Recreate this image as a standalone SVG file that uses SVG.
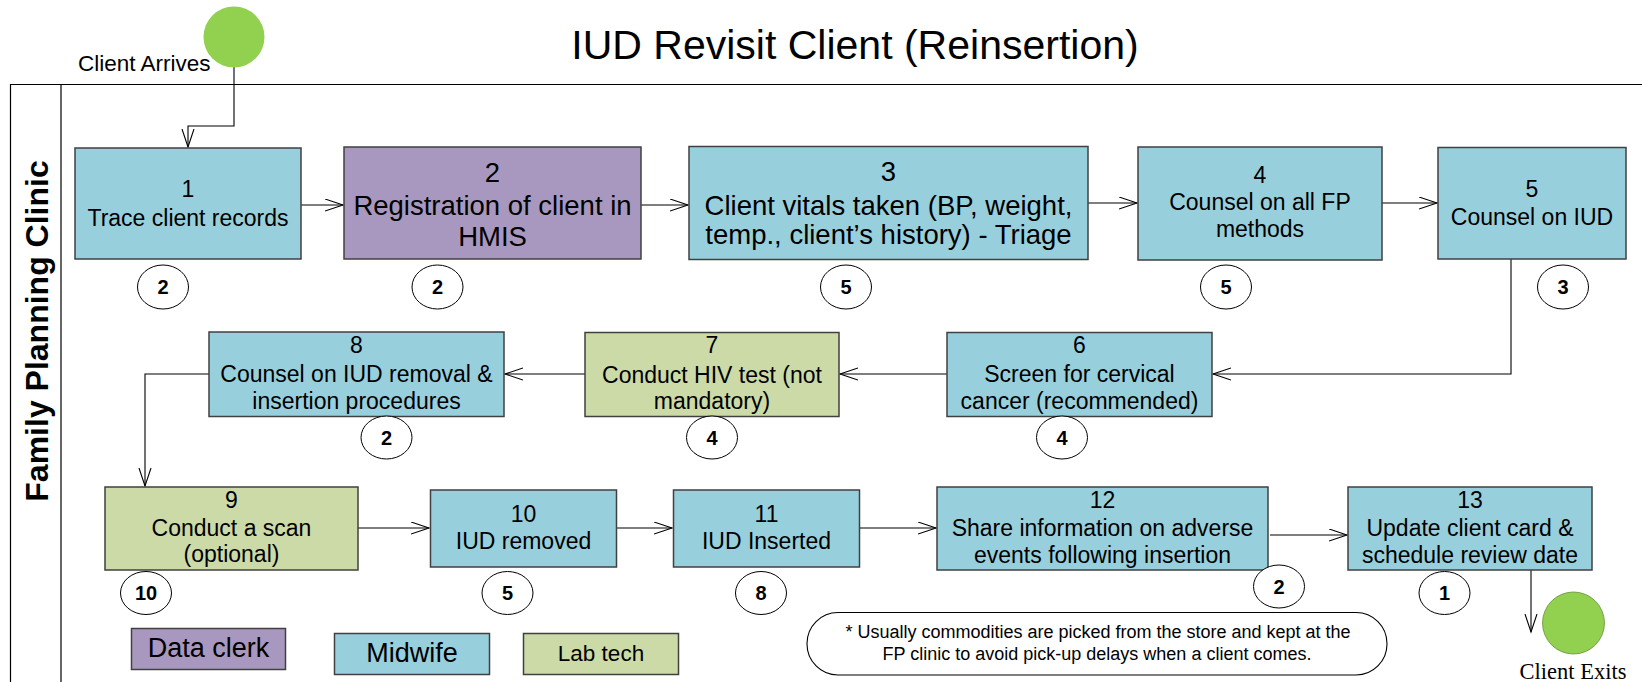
<svg xmlns="http://www.w3.org/2000/svg" width="1642" height="682" viewBox="0 0 1642 682">
<style>
text{font-family:"Liberation Sans",Arial,sans-serif;fill:#000}
.box{stroke:#404040;stroke-width:1.5}
.mid{fill:#98CFDC}
.dat{fill:#A898BF}
.lab{fill:#CCDAA8}
.t{font-size:23px;text-anchor:middle}
.tb{font-size:27.5px;text-anchor:middle}
.badge{fill:#fff;stroke:#000;stroke-width:1}
.bt{font-size:20px;font-weight:bold;text-anchor:middle}
.con{fill:none;stroke:#000;stroke-width:1.1}
.start{fill:#92D050}
</style>
<defs>
<marker id="ah" markerUnits="userSpaceOnUse" markerWidth="20" markerHeight="14" refX="18" refY="6.5" orient="auto">
<path d="M0,0.5 L18,6.5 L0,12.5" fill="none" stroke="#000" stroke-width="1.1"/>
</marker>
</defs>
<rect width="1642" height="682" fill="#fff"/>

<g id="title">
<text x="855" y="58.5" style="font-size:41px;text-anchor:middle">IUD Revisit Client (Reinsertion)</text>
</g>

<g id="lane">
<path d="M10.5,682 V84.5 H1642 M61,84.5 V682" fill="none" stroke="#000" stroke-width="1.2"/>
<text transform="translate(48,331) rotate(-90)" style="font-size:32px;font-weight:bold;text-anchor:middle">Family Planning Clinic</text>
</g>

<g id="connectors">
<path class="con" d="M234,67 V126 H188 V147" marker-end="url(#ah)"/>
<path class="con" d="M301,205 H343" marker-end="url(#ah)"/>
<path class="con" d="M641,205 H688" marker-end="url(#ah)"/>
<path class="con" d="M1088,203 H1137" marker-end="url(#ah)"/>
<path class="con" d="M1382,203 H1437" marker-end="url(#ah)"/>
<path class="con" d="M1511,259 V374 H1213" marker-end="url(#ah)"/>
<path class="con" d="M947,374 H840" marker-end="url(#ah)"/>
<path class="con" d="M585,374 H505" marker-end="url(#ah)"/>
<path class="con" d="M209,374 H145 V486" marker-end="url(#ah)"/>
<path class="con" d="M358,528 H429" marker-end="url(#ah)"/>
<path class="con" d="M617,528 H672" marker-end="url(#ah)"/>
<path class="con" d="M860,528 H936" marker-end="url(#ah)"/>
<path class="con" d="M1270,535 H1347" marker-end="url(#ah)"/>
<path class="con" d="M1531,570 V632" marker-end="url(#ah)"/>
</g>

<g id="start">
<circle class="start" cx="234" cy="37" r="30.5"/>
<text x="78" y="70.5" style="font-size:22.5px">Client Arrives</text>
</g>

<g id="n1">
<rect class="box mid" x="75" y="148" width="226" height="111"/>
<text class="t" x="188" y="197">1</text>
<text class="t" x="188" y="226">Trace client records</text>
<ellipse class="badge" cx="163" cy="287" rx="25.5" ry="22"/>
<text class="bt" x="163" y="294">2</text>
</g>

<g id="n2">
<rect class="box dat" x="344" y="147" width="297" height="112"/>
<text class="tb" x="492.5" y="182">2</text>
<text class="tb" x="492.5" y="214.5">Registration of client in</text>
<text class="tb" x="492.5" y="246">HMIS</text>
<ellipse class="badge" cx="437.5" cy="287" rx="25.5" ry="22"/>
<text class="bt" x="437.5" y="294">2</text>
</g>

<g id="n3">
<rect class="box mid" x="689" y="146.5" width="399" height="113"/>
<text class="tb" x="888.5" y="181">3</text>
<text class="tb" x="888.5" y="215">Client vitals taken (BP, weight,</text>
<text class="tb" x="888.5" y="244">temp., client’s history) - Triage</text>
<ellipse class="badge" cx="846" cy="287" rx="25.5" ry="22"/>
<text class="bt" x="846" y="294">5</text>
</g>

<g id="n4">
<rect class="box mid" x="1138" y="147" width="244" height="113"/>
<text class="t" x="1260" y="183">4</text>
<text class="t" x="1260" y="210">Counsel on all FP</text>
<text class="t" x="1260" y="237">methods</text>
<ellipse class="badge" cx="1226" cy="287" rx="25.5" ry="22"/>
<text class="bt" x="1226" y="294">5</text>
</g>

<g id="n5">
<rect class="box mid" x="1438" y="147.5" width="188" height="111.5"/>
<text class="t" x="1532" y="197">5</text>
<text class="t" x="1532" y="224.5">Counsel on IUD</text>
<ellipse class="badge" cx="1563" cy="287" rx="25.5" ry="22"/>
<text class="bt" x="1563" y="294">3</text>
</g>

<g id="n6">
<rect class="box mid" x="947" y="332.5" width="265" height="84"/>
<text class="t" x="1079.5" y="353">6</text>
<text class="t" x="1079.5" y="382">Screen for cervical</text>
<text class="t" x="1079.5" y="408.5">cancer (recommended)</text>
<ellipse class="badge" cx="1062" cy="437.5" rx="25.5" ry="21.5"/>
<text class="bt" x="1062" y="444.5">4</text>
</g>

<g id="n7">
<rect class="box lab" x="585" y="332.5" width="254" height="84"/>
<text class="t" x="712" y="353">7</text>
<text class="t" x="712" y="382.5">Conduct HIV test (not</text>
<text class="t" x="712" y="409">mandatory)</text>
<ellipse class="badge" cx="712" cy="437.5" rx="25.5" ry="21.5"/>
<text class="bt" x="712" y="444.5">4</text>
</g>

<g id="n8">
<rect class="box mid" x="209" y="332" width="295" height="84.5"/>
<text class="t" x="356.5" y="353">8</text>
<text class="t" x="356.5" y="382">Counsel on IUD removal &amp;</text>
<text class="t" x="356.5" y="408.5">insertion procedures</text>
<ellipse class="badge" cx="386.5" cy="437.5" rx="25.5" ry="21.5"/>
<text class="bt" x="386.5" y="444.5">2</text>
</g>

<g id="n9">
<rect class="box lab" x="105" y="487" width="253" height="83"/>
<text class="t" x="231.5" y="508">9</text>
<text class="t" x="231.5" y="536">Conduct a scan</text>
<text class="t" x="231.5" y="562">(optional)</text>
<ellipse class="badge" cx="146" cy="593" rx="25.5" ry="21.5"/>
<text class="bt" x="146" y="600">10</text>
</g>

<g id="n10">
<rect class="box mid" x="430.5" y="490" width="186" height="77"/>
<text class="t" x="523.5" y="521.5">10</text>
<text class="t" x="523.5" y="548.5">IUD removed</text>
<ellipse class="badge" cx="507.5" cy="593" rx="25.5" ry="21.5"/>
<text class="bt" x="507.5" y="600">5</text>
</g>

<g id="n11">
<rect class="box mid" x="673.5" y="490" width="186" height="77"/>
<text class="t" x="766.5" y="521.5">11</text>
<text class="t" x="766.5" y="548.5">IUD Inserted</text>
<ellipse class="badge" cx="761" cy="593" rx="25.5" ry="21.5"/>
<text class="bt" x="761" y="600">8</text>
</g>

<g id="n12">
<rect class="box mid" x="937" y="487" width="331" height="83"/>
<text class="t" x="1102.5" y="508">12</text>
<text class="t" x="1102.5" y="536">Share information on adverse</text>
<text class="t" x="1102.5" y="563">events following insertion</text>
<ellipse class="badge" cx="1279" cy="586.5" rx="25.5" ry="21.5"/>
<text class="bt" x="1279" y="593.5">2</text>
</g>

<g id="n13">
<rect class="box mid" x="1348" y="487" width="244" height="83"/>
<text class="t" x="1470" y="508">13</text>
<text class="t" x="1470" y="536">Update client card &amp;</text>
<text class="t" x="1470" y="563">schedule review date</text>
<ellipse class="badge" cx="1444.5" cy="593" rx="25.5" ry="21.5"/>
<text class="bt" x="1444.5" y="600">1</text>
</g>

<g id="end">
<circle class="start" cx="1573.5" cy="623" r="31" stroke="#6a8f3a" stroke-width="0.8"/>
<text x="1573" y="679" style="font-family:'Liberation Serif','Times New Roman',serif;font-size:22.5px;text-anchor:middle">Client Exits</text>
</g>

<g id="note">
<rect x="807" y="612.5" width="580" height="62.5" rx="31" ry="31" fill="#fff" stroke="#000" stroke-width="1.1"/>
<text x="1098" y="638" style="font-size:18px;text-anchor:middle">* Usually commodities are picked from the store and kept at the</text>
<text x="1097" y="660" style="font-size:18px;text-anchor:middle">FP clinic to avoid pick-up delays when a client comes.</text>
</g>

<g id="legend">
<rect class="box dat" x="131.5" y="628.5" width="154" height="41"/>
<text x="208.5" y="657" style="font-size:27px;text-anchor:middle">Data clerk</text>
<rect class="box mid" x="334.5" y="633.5" width="155" height="41"/>
<text x="412" y="662" style="font-size:27px;text-anchor:middle">Midwife</text>
<rect class="box lab" x="523.5" y="633.5" width="155" height="41"/>
<text x="601" y="661" style="font-size:22.5px;text-anchor:middle">Lab tech</text>
</g>
</svg>
